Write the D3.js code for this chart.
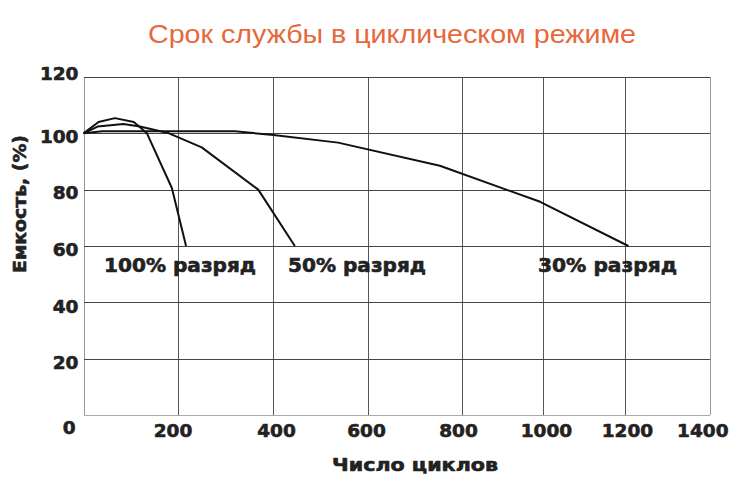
<!DOCTYPE html>
<html>
<head>
<meta charset="utf-8">
<script src="https://cdn.jsdelivr.net/npm/d3@7"></script>
<style>
  html, body { margin: 0; padding: 0; background: #fff; }
  svg { display: block; }
</style>
</head>
<body>
<svg id="chart" width="742" height="484"></svg>
<script>
// ---- data ----
const title = "Срок службы в циклическом режиме";
const xTicks = [0, 200, 400, 600, 800, 1000, 1200, 1400];
const yTicks = [0, 20, 40, 60, 80, 100, 120];
const xTitle = "Число циклов";
const yTitle = "Емкость, (%)";

const cycles100 = [0, 32, 67, 107, 135, 188, 218];
const cap100    = [100, 104, 105.4, 104, 100, 80.6, 60];
const cycles50  = [0, 30, 85, 120, 182, 251, 370, 447];
const cap50     = [100, 102.4, 103.3, 102.4, 100, 95, 80, 60];
const cycles30  = [0, 40, 321, 402, 538, 754, 993, 1208];
const cap30     = [100, 100.7, 100.7, 99.4, 96.7, 88.5, 75.7, 60];
const seriesNames = ["100% разряд", "50% разряд", "30% разряд"];

// ---- layout ----
const svg = d3.select("#chart");
// the original's cycle axis is not evenly spaced: piecewise linear scale
const x = d3.scaleLinear().domain(xTicks).range([83.5, 177.5, 272.5, 367.5, 461.5, 543, 625, 710]);
const y = d3.scaleLinear().domain([0, 120]).range([415, 77]);
// label placement scales (labels are offset from their grid lines in the original)
const xLab = d3.scaleLinear().domain(xTicks).range([68, 173, 276.5, 366.5, 458.5, 546.5, 627.4, 702.8]);
const yLab = d3.scaleLinear().domain(yTicks).range([426.7, 362.3, 305.7, 249, 191.7, 135.7, 73.3]);

svg.append("rect").attr("width", 742).attr("height", 484).attr("fill", "#fff");

// title
svg.append("text")
  .attr("x", 148).attr("y", 43)
  .attr("textLength", 488).attr("lengthAdjust", "spacingAndGlyphs")
  .attr("font-family", "'Liberation Sans Narrow', 'Liberation Sans', Arial, sans-serif")
  .attr("font-size", 25)
  .attr("fill", "#e5693c")
  .text(title);

// grid
const grid = svg.append("g").attr("stroke", "#555").attr("stroke-width", 1).attr("shape-rendering", "crispEdges");
grid.selectAll("line.v").data(xTicks).join("line").attr("class", "v")
  .attr("x1", d => Math.round(x(d)) + 0.5).attr("x2", d => Math.round(x(d)) + 0.5)
  .attr("y1", y(120)).attr("y2", y(0))
  .attr("stroke", d => (d === 0 || d === 1400) ? "#999" : "#555");
grid.selectAll("line.h").data(yTicks).join("line").attr("class", "h")
  .attr("y1", d => Math.round(y(d)) + 0.5).attr("y2", d => Math.round(y(d)) + 0.5)
  .attr("x1", x(0)).attr("x2", x(1400))
  .attr("stroke", d => d === 0 ? "#aaa" : "#444");

// tick labels
const tickFont = "'DejaVu Sans', 'Liberation Sans', sans-serif";
function heavy(sel) {
  return sel.attr("font-family", tickFont).attr("font-weight", "bold")
    .attr("fill", "#222").attr("stroke", "#222").attr("stroke-width", 0.6)
    .attr("stroke-linejoin", "round");
}
heavy(svg.append("g").selectAll("text").data(yTicks).join("text")
  .attr("x", d => d === 0 ? 75.5 : 78.5)
  .attr("y", d => yLab(d) + 6.8)
  .attr("text-anchor", "end")
  .attr("font-size", 18.5))
  .text(d => d);
heavy(svg.append("g").selectAll("text").data(xTicks.filter(d => d !== 0)).join("text")
  .attr("x", d => xLab(d))
  .attr("y", 437)
  .attr("text-anchor", "middle")
  .attr("font-size", 18.5))
  .text(d => d);

// axis titles
heavy(svg.append("text")
  .attr("x", 415).attr("y", 471)
  .attr("text-anchor", "middle")
  .attr("textLength", 166).attr("lengthAdjust", "spacingAndGlyphs")
  .attr("font-size", 17))
  .text(xTitle);
heavy(svg.append("text")
  .attr("transform", "translate(26,204) rotate(-90)")
  .attr("text-anchor", "middle")
  .attr("textLength", 138).attr("lengthAdjust", "spacingAndGlyphs")
  .attr("font-size", 17))
  .text(yTitle);

// curves
const series = [
  { name: seriesNames[0], xs: cycles100, ys: cap100 },
  { name: seriesNames[1], xs: cycles50, ys: cap50 },
  { name: seriesNames[2], xs: cycles30, ys: cap30 }
];
const line = d3.line().x(d => x(d[0])).y(d => y(d[1]));
svg.append("g").selectAll("path").data(series).join("path")
  .attr("d", s => line(s.xs.map((c, i) => [c, s.ys[i]])))
  .attr("fill", "none")
  .attr("stroke", "#111")
  .attr("stroke-width", 2)
  .attr("stroke-linejoin", "round");

// series labels
const labelPos = [[104, 152], [288, 138], [538, 139]];
heavy(svg.append("g").selectAll("text").data(series).join("text")
  .attr("x", (s, i) => labelPos[i][0])
  .attr("y", 272)
  .attr("textLength", (s, i) => labelPos[i][1]).attr("lengthAdjust", "spacingAndGlyphs")
  .attr("font-size", 19.5))
  .text(s => s.name);
</script>
</body>
</html>
